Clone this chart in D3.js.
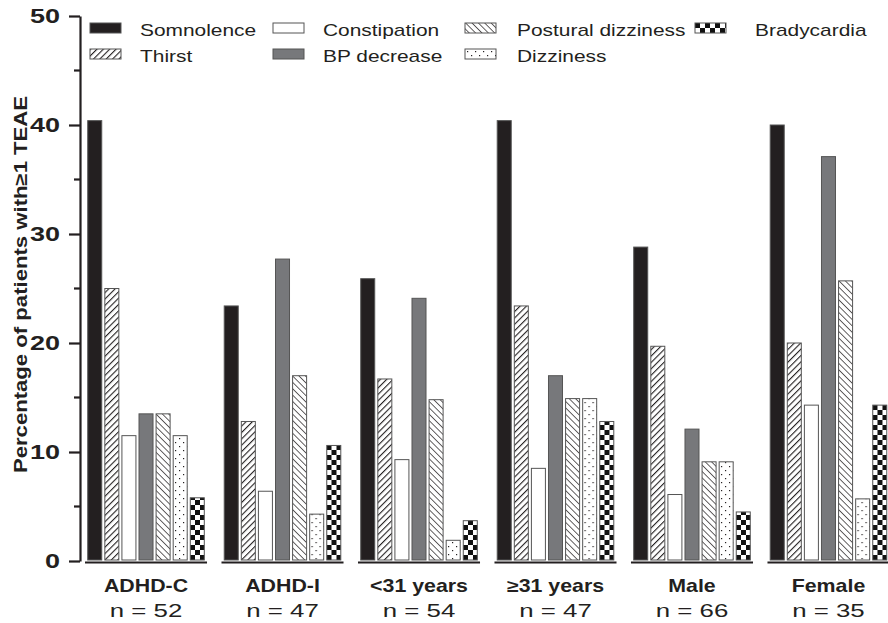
<!DOCTYPE html>
<html>
<head>
<meta charset="utf-8">
<script src="https://cdn.jsdelivr.net/npm/d3@7"></script>
<style>
  body { margin: 0; background: #fff; }
  text { font-family: "Liberation Sans", Arial, sans-serif; fill: #231f20; }
</style>
</head>
<body>
<div id="chart"></div>
<script>
// data (% of patients with >=1 TEAE)
const groups = ["ADHD-C", "ADHD-I", "<31 years", "\u226531 years", "Male", "Female"];
const groupN = [52, 47, 54, 47, 66, 35];
const events = ["Somnolence", "Thirst", "Constipation", "BP decrease", "Postural dizziness", "Dizziness", "Bradycardia"];

const somnolence = [40.4, 23.4, 25.9, 40.4, 28.8, 40.0];
const thirst = [25.0, 12.8, 16.7, 23.4, 19.7, 20.0];
const constipation = [11.5, 6.4, 9.3, 8.5, 6.1, 14.3];
const bpDecrease = [13.5, 27.7, 24.1, 17.0, 12.1, 37.1];
const posturalDizziness = [13.5, 17.0, 14.8, 14.9, 9.1, 25.7];
const dizziness = [11.5, 4.3, 1.9, 14.9, 9.1, 5.7];
const bradycardia = [5.8, 10.6, 3.7, 12.8, 4.5, 14.3];

const series = [somnolence, thirst, constipation, bpDecrease, posturalDizziness, dizziness, bradycardia];
const yTicks = [0, 10, 20, 30, 40, 50];

const width = 888, height = 623;
const wide = 1.23; // the figure's lettering is set wider than Arial

const svg = d3.select("#chart").append("svg")
  .attr("width", width)
  .attr("height", height);

// fill patterns
const defs = svg.append("defs");
const dark = "#231f20";

let p = defs.append("pattern").attr("id", "thirst")
  .attr("patternUnits", "userSpaceOnUse").attr("width", 4.5).attr("height", 4.5)
  .attr("patternTransform", "rotate(45)");
p.append("rect").attr("width", 4.5).attr("height", 4.5).attr("fill", "#fff");
p.append("line").attr("x1", 0).attr("y1", 0).attr("x2", 0).attr("y2", 4.5)
  .attr("stroke", dark).attr("stroke-width", 2.2);

p = defs.append("pattern").attr("id", "postural")
  .attr("patternUnits", "userSpaceOnUse").attr("width", 4.5).attr("height", 4.5)
  .attr("patternTransform", "rotate(-45)");
p.append("rect").attr("width", 4.5).attr("height", 4.5).attr("fill", "#fff");
p.append("line").attr("x1", 0).attr("y1", 0).attr("x2", 0).attr("y2", 4.5)
  .attr("stroke", dark).attr("stroke-width", 1.4);

p = defs.append("pattern").attr("id", "dots")
  .attr("patternUnits", "userSpaceOnUse").attr("width", 8).attr("height", 8);
p.append("rect").attr("width", 8).attr("height", 8).attr("fill", "#fff");
p.append("rect").attr("x", 2).attr("y", 2).attr("width", 1.2).attr("height", 1.2).attr("fill", dark);
p.append("rect").attr("x", 6).attr("y", 6).attr("width", 1.2).attr("height", 1.2).attr("fill", dark);

p = defs.append("pattern").attr("id", "checker")
  .attr("patternUnits", "userSpaceOnUse").attr("width", 10).attr("height", 10);
p.append("rect").attr("width", 10).attr("height", 10).attr("fill", "#fff");
p.append("rect").attr("width", 5).attr("height", 5).attr("fill", "#111");
p.append("rect").attr("x", 5).attr("y", 5).attr("width", 5).attr("height", 5).attr("fill", "#111");

const fills = [dark, "url(#thirst)", "#fff", "#77787b", "url(#postural)", "url(#dots)", "url(#checker)"];

// scales
const y = d3.scaleLinear().domain([0, 50]).range([561, 16]);

const x0 = d3.scaleBand().domain(groups)
  .range([85, 889.5]).paddingInner(0.106).paddingOuter(0);

const x1 = d3.scaleBand().domain(events)
  .range([0, x0.bandwidth()]).paddingInner(0.18).paddingOuter(0.16);

// y axis
const yAxis = d3.axisLeft(y).tickValues(yTicks).tickSize(11).tickPadding(7).tickSizeOuter(0);
const ga = svg.append("g").attr("transform", "translate(80,0)").call(yAxis);
ga.select(".domain").attr("stroke", dark).attr("stroke-width", 2.2);
ga.selectAll(".tick line").attr("stroke", dark).attr("stroke-width", 2.2);
ga.selectAll(".tick text")
  .attr("x", null)
  .attr("transform", "translate(-20,0) scale(1.35,1)")
  .style("font-size", "20px").style("font-weight", "bold").attr("fill", dark);

// minor ticks
svg.append("g").selectAll("line")
  .data([5, 15, 25, 35, 45])
  .join("line")
  .attr("x1", 74).attr("x2", 80)
  .attr("y1", d => y(d)).attr("y2", d => y(d))
  .attr("stroke", dark).attr("stroke-width", 2.2);

svg.append("text")
  .attr("transform", "translate(27," + (y(25) - 4) + ") rotate(-90) scale(" + wide + ",1)")
  .attr("text-anchor", "middle")
  .style("font-size", "18px").style("font-weight", "bold")
  .text("Percentage of patients with\u22651 TEAE");

// bars
const gGroups = svg.append("g").selectAll("g")
  .data(groups)
  .join("g")
  .attr("transform", d => "translate(" + x0(d) + ",0)");

gGroups.selectAll("rect")
  .data((g, gi) => events.map((e, ei) => ({ e: e, ei: ei, v: series[ei][gi] })))
  .join("rect")
  .attr("x", d => x1(d.e))
  .attr("y", d => y(d.v))
  .attr("width", x1.bandwidth())
  .attr("height", d => y(0) - y(d.v) - 1)
  .attr("fill", d => fills[d.ei])
  .attr("stroke", "#555")
  .attr("stroke-width", 1);

// group baselines
gGroups.append("line")
  .attr("x1", 0).attr("x2", x0.bandwidth())
  .attr("y1", y(0) + 1.5).attr("y2", y(0) + 1.5)
  .attr("stroke", dark).attr("stroke-width", 2.2);

gGroups.append("text")
  .attr("transform", "translate(" + (x0.bandwidth() / 2) + ",592) scale(1.22,1)")
  .attr("text-anchor", "middle")
  .style("font-size", "17.5px").style("font-weight", "bold")
  .text(d => d);

gGroups.append("text")
  .attr("transform", "translate(" + (x0.bandwidth() / 2) + ",617) scale(1.36,1)")
  .attr("text-anchor", "middle")
  .style("font-size", "19px")
  .text((d, i) => "n = " + groupN[i]);

// legend (4 columns, 2 rows)
const legendX = [90, 273, 465, 695];
const legendRow = [0, 1, 0, 1, 0, 1, 0];
const legendCol = [0, 0, 1, 1, 2, 2, 3];

const leg = svg.append("g").selectAll("g")
  .data(events)
  .join("g")
  .attr("transform", (d, i) => "translate(" + legendX[legendCol[i]] + "," + (23 + legendRow[i] * 26) + ")");

leg.append("rect")
  .attr("width", 31).attr("height", 10)
  .attr("fill", (d, i) => fills[i])
  .attr("stroke", "#555").attr("stroke-width", 1);

leg.append("text")
  .attr("transform", (d, i) => "translate(" + [50, 50, 52, 60][legendCol[i]] + ",13) scale(" + wide + ",1)")
  .style("font-size", "17px")
  .text(d => d);
</script>
</body>
</html>
